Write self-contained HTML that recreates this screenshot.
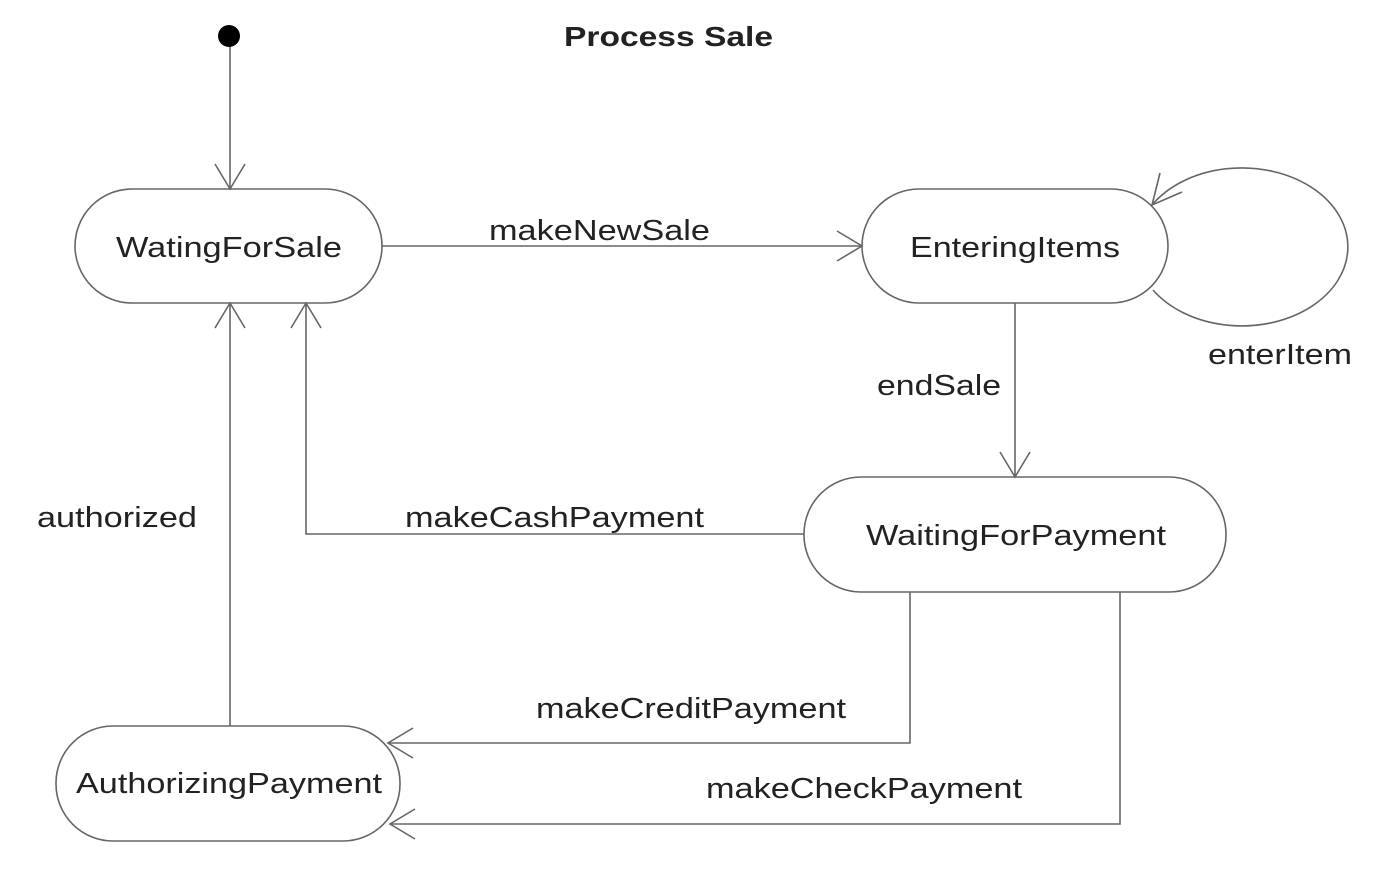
<!DOCTYPE html>
<html><head><meta charset="utf-8"><style>html,body{margin:0;padding:0;background:#fff}svg{display:block}</style></head>
<body>
<svg width="1384" height="882" viewBox="0 0 1384 882" xmlns="http://www.w3.org/2000/svg">
<g fill="none" stroke="#666" stroke-width="1.6">
<rect x="75" y="189" width="307" height="114" rx="57"/>
<rect x="862" y="189" width="306" height="114" rx="57"/>
<rect x="804" y="477" width="422" height="115" rx="57"/>
<rect x="56" y="726" width="344" height="115" rx="57"/>
<line x1="230" y1="40" x2="230" y2="189"/>
<polyline points="215,164 230,189 245,164"/>
<line x1="382" y1="246" x2="862" y2="246"/>
<polyline points="837,231 862,246 837,261"/>
<line x1="1015" y1="303" x2="1015" y2="477"/>
<polyline points="1000,452 1015,477 1030,452"/>
<line x1="230" y1="726" x2="230" y2="303"/>
<polyline points="215,328 230,303 245,328"/>
<polyline points="804,534 306,534 306,303"/>
<polyline points="291,328 306,303 321,328"/>
<polyline points="910,592 910,743 388,743"/>
<polyline points="413,728 388,743 413,758"/>
<polyline points="1120,592 1120,824 390,824"/>
<polyline points="415,809 390,824 415,839"/>
<path d="M1153,290 A106,79 0 1 0 1152,205"/>
<polyline points="1160,173 1152,205 1182,192"/>
</g>
<circle cx="229" cy="36" r="11" fill="#000"/>
<g font-family="Liberation Sans, sans-serif" font-size="29" fill="#222">
<text x="564" y="46" font-weight="bold" font-size="28" textLength="209" lengthAdjust="spacingAndGlyphs">Process Sale</text>
<text x="116" y="257" textLength="226" lengthAdjust="spacingAndGlyphs">WatingForSale</text>
<text x="910" y="257" textLength="210" lengthAdjust="spacingAndGlyphs">EnteringItems</text>
<text x="866" y="545" textLength="300" lengthAdjust="spacingAndGlyphs">WaitingForPayment</text>
<text x="76" y="793" textLength="306" lengthAdjust="spacingAndGlyphs">AuthorizingPayment</text>
<text x="489" y="240" textLength="221" lengthAdjust="spacingAndGlyphs">makeNewSale</text>
<text x="1208" y="364" textLength="144" lengthAdjust="spacingAndGlyphs">enterItem</text>
<text x="877" y="395" textLength="124" lengthAdjust="spacingAndGlyphs">endSale</text>
<text x="37" y="527" textLength="160" lengthAdjust="spacingAndGlyphs">authorized</text>
<text x="405" y="527" textLength="299" lengthAdjust="spacingAndGlyphs">makeCashPayment</text>
<text x="536" y="718" textLength="310" lengthAdjust="spacingAndGlyphs">makeCreditPayment</text>
<text x="706" y="798" textLength="316" lengthAdjust="spacingAndGlyphs">makeCheckPayment</text>
</g>
</svg>
</body></html>
